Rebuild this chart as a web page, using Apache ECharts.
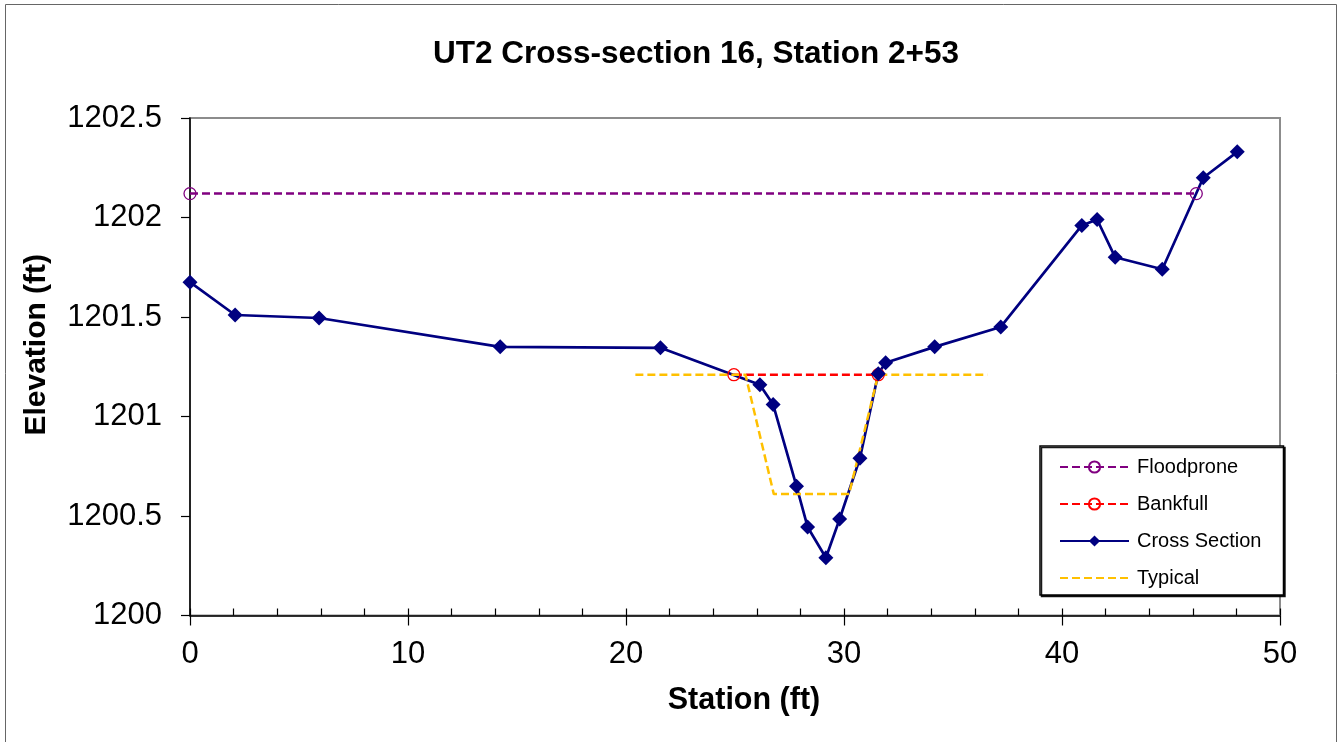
<!DOCTYPE html>
<html>
<head>
<meta charset="utf-8">
<title>UT2 Cross-section 16, Station 2+53</title>
<script src="https://cdn.jsdelivr.net/npm/echarts@6/dist/echarts.min.js"></script>
<style>
  html, body { margin: 0; padding: 0; background: #ffffff; }
  #chart { width: 1341px; height: 742px; }
</style>
</head>
<body>
<div id="chart"></div>
<script>
// Surveyed ground profile
const xsStation = [0, 2.07, 5.92, 14.23, 21.58, 26.14, 26.75, 27.82, 28.33, 29.17, 29.80, 30.73, 31.57, 31.91, 34.16, 37.19, 40.91, 41.61, 42.44, 44.60, 46.48, 48.04];
const xsElevation = [1201.675, 1201.51, 1201.495, 1201.35, 1201.345, 1201.16, 1201.06, 1200.65, 1200.445, 1200.29, 1200.485, 1200.79, 1201.215, 1201.27, 1201.35, 1201.45, 1201.96, 1201.99, 1201.80, 1201.74, 1202.20, 1202.33];

// Floodprone and bankfull stages
const floodStation = [0, 46.16];
const floodElevation = [1202.12, 1202.12];
const bankStation = [24.95, 31.57];
const bankElevation = [1201.21, 1201.21];

// Typical design section
const typStation = [20.43, 25.48, 26.78, 30.23, 31.57, 36.58];
const typElevation = [1201.21, 1201.21, 1200.61, 1200.61, 1201.21, 1201.21];

// Axis ticks
const xTicks = [0, 10, 20, 30, 40, 50];
const yTicks = [1200, 1200.5, 1201, 1201.5, 1202, 1202.5];

const zip = (a, b) => a.map((v, i) => [v, b[i]]);

const FONT = 'Liberation Sans, Arial, sans-serif';
const dash = [8, 4];

const chart = echarts.init(document.getElementById('chart'), null, { renderer: 'canvas' });

chart.setOption({
  backgroundColor: '#ffffff',
  animation: false,
  title: {
    text: 'UT2 Cross-section 16, Station 2+53',
    left: 691,
    top: 33,
    textAlign: 'center',
    textStyle: { fontFamily: FONT, fontSize: 31.5, fontWeight: 'bold', color: '#000' }
  },
  graphic: [{
    type: 'rect',
    shape: { x: 5.5, y: 4.5, width: 1331, height: 760 },
    style: { fill: 'none', stroke: '#666', lineWidth: 1 },
    silent: true
  }],
  grid: {
    left: 190, right: 61, top: 118, bottom: 126.5,
    show: true,
    borderColor: '#8c8c8c',
    borderWidth: 2,
    backgroundColor: 'transparent'
  },
  legend: {
    orient: 'vertical',
    left: 1040,
    top: 446,
    width: 240,
    padding: [10, 22, 6, 19],
    itemWidth: 69,
    itemHeight: 14,
    itemGap: 15,
    borderColor: '#000',
    borderWidth: 1.5,
    backgroundColor: '#fff',
    shadowColor: 'rgba(0,0,0,0.9)',
    shadowOffsetX: 1.5,
    shadowOffsetY: 1.5,
    shadowBlur: 0,
    textStyle: { fontFamily: FONT, fontSize: 20, color: '#000', padding: [0, 0, 0, 3], lineHeight: 22 },
    data: [
      'Floodprone',
      'Bankfull',
      'Cross Section',
      { name: 'Typical', itemStyle: { color: 'rgba(0,0,0,0)', borderWidth: 0 } }
    ]
  },
  xAxis: [{
    type: 'value',
    min: 0, max: 50, interval: 10,
    name: 'Station (ft)',
    nameLocation: 'middle',
    nameGap: 70,
    nameTextStyle: { fontFamily: FONT, fontSize: 30.5, fontWeight: 'bold', color: '#000', padding: [0, 0, 0, 18] },
    axisLine: { show: true, onZero: false, lineStyle: { color: '#000', width: 1.5 } },
    axisTick: { show: true, length: 10, lineStyle: { color: '#000', width: 1.2 } },
    axisLabel: {
      margin: 23, fontFamily: FONT, fontSize: 31, color: '#000',
      customValues: xTicks,
      formatter: v => String(v)
    },
    splitLine: { show: false }
  }, {
    // inner minor ticks every 2 ft
    type: 'value',
    min: 0, max: 50, interval: 2,
    position: 'bottom',
    axisLine: { show: false },
    axisTick: { show: true, inside: true, length: 7, lineStyle: { color: '#000', width: 1.2 } },
    axisLabel: { show: false },
    splitLine: { show: false }
  }],
  yAxis: {
    type: 'value',
    min: 1200, max: 1202.5, interval: 0.5,
    name: 'Elevation (ft)',
    nameLocation: 'middle',
    nameGap: 138,
    nameTextStyle: { fontFamily: FONT, fontSize: 30, fontWeight: 'bold', color: '#000', padding: [0, 0, 0, 44] },
    axisLine: { show: true, onZero: false, lineStyle: { color: '#000', width: 1.5 } },
    axisTick: { show: true, length: 9, lineStyle: { color: '#000', width: 1.2 } },
    axisLabel: {
      margin: 28, fontFamily: FONT, fontSize: 31, color: '#000',
      customValues: yTicks,
      formatter: v => String(v)
    },
    splitLine: { show: false }
  },
  series: [{
    name: 'Floodprone',
    type: 'line',
    data: zip(floodStation, floodElevation),
    symbol: 'circle',
    symbolSize: 12,
    lineStyle: { color: '#800080', width: 2.5, type: dash },
    itemStyle: { color: 'rgba(0,0,0,0)', borderColor: '#800080', borderWidth: 1.3 }
  }, {
    name: 'Bankfull',
    type: 'line',
    data: zip(bankStation, bankElevation),
    symbol: 'circle',
    symbolSize: 12,
    lineStyle: { color: '#ff0000', width: 2.5, type: dash },
    itemStyle: { color: 'rgba(0,0,0,0)', borderColor: '#ff0000', borderWidth: 1.3 }
  }, {
    name: 'Cross Section',
    type: 'line',
    data: zip(xsStation, xsElevation),
    symbol: 'diamond',
    symbolSize: 15,
    lineStyle: { color: '#000080', width: 2.7 },
    itemStyle: { color: '#000080' }
  }, {
    name: 'Typical',
    type: 'line',
    data: zip(typStation, typElevation),
    symbol: 'none',
    lineStyle: { color: '#ffc000', width: 2.5, type: dash },
    itemStyle: { color: '#ffc000' }
  }]
});
</script>
</body>
</html>
